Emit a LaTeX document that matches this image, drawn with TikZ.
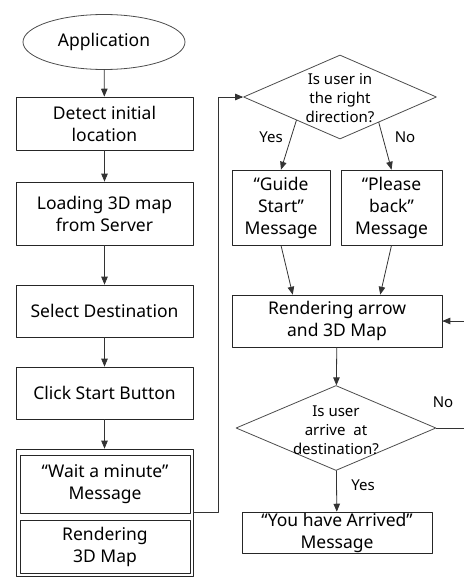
\documentclass[tikz,border=0pt]{standalone}
\usepackage{fontspec}
\setmainfont{Noto Sans}
\usetikzlibrary{arrows}
\usetikzlibrary{shapes.geometric}
\usetikzlibrary{calc}

\tikzset{
  box/.style={draw=black!85,line width=0.8pt,rectangle,inner sep=0pt,align=center,font=\fontsize{17.5}{22}\selectfont},
  startnode/.style={draw=black!70,line width=0.8pt,ellipse,inner sep=0pt,font=\fontsize{17.5}{22}\selectfont},
  decision/.style={draw=black!70,line width=0.8pt,diamond,inner sep=0pt},
  qtext/.style={align=center,inner sep=0pt,font=\fontsize{15}{19}\selectfont},
  answer/.style={inner sep=0pt,font=\fontsize{15}{19}\selectfont},
  link/.style={->,draw=black!80,line width=0.8pt}
}

\begin{document}
\begin{tikzpicture}[line cap=round,line join=round,>=triangle 45,x=1pt,y=-1pt]
\useasboundingbox (0,0) rectangle (463,578);
% left column
\node[startnode,minimum width=162pt,minimum height=55pt] (app) at (104,42) {Application};
\node[box,minimum width=177pt,minimum height=53pt] (detect) at (104.5,123.5) {Detect initial\\location};
\node[box,minimum width=177pt,minimum height=63pt] (load) at (104.5,213.5) {Loading 3D map\\from Server};
\node[box,minimum width=177pt,minimum height=52pt] (select) at (104.5,311) {Select Destination};
\node[box,minimum width=177pt,minimum height=52pt] (click) at (104.5,393) {Click Start Button};
\node[box,minimum width=177pt,minimum height=127pt] (outer) at (104.5,512.5) {};
\node[box,minimum width=170pt,minimum height=58pt] (wait) at (105,484) {“Wait a minute”\\Message};
\node[box,minimum width=170pt,minimum height=53pt] (render3d) at (105,546.5) {Rendering\\3D Map};
% right column
\node[decision,minimum width=193pt,minimum height=84pt] (dir) at (340,97) {};
\node[qtext] (dirq) at (340,98) {Is user in\\the right\\direction?};
\node[box,minimum width=98pt,minimum height=75pt] (guide) at (281,207.5) {“Guide\\Start”\\Message};
\node[box,minimum width=101pt,minimum height=75pt] (please) at (391.5,207.5) {“Please\\back”\\Message};
\node[box,minimum width=210pt,minimum height=52pt] (render) at (337,321) {Rendering arrow\\and 3D Map};
\node[decision,minimum width=200pt,minimum height=85pt] (arrive) at (336,428) {};
\node[qtext] (arriveq) at (336,430) {Is user\\arrive~ at\\destination?};
\node[box,minimum width=190pt,minimum height=41pt] (arrived) at (337,532.5) {“You have Arrived”\\Message};
\node[answer] (yes1) at (271,137) {Yes};
\node[answer] (no1) at (405,137) {No};
\node[answer] (no2) at (443,402) {No};
\node[answer] (yes2) at (363,485) {Yes};
% connectors
\draw[link] (app) -- (detect);
\draw[link] (detect) -- (load);
\draw[link] (load) -- (select);
\draw[link] (select) -- (click);
\draw[link] (click) -- (outer);
\draw[link] (outer.east) -- ++(25,0) |- (dir.west);
\draw[link] ($(dir.south)!0.45!(dir.west)$) -- (guide.north);
\draw[link] ($(dir.south)!0.4!(dir.east)$) -- (please.north);
\draw[link] (guide.south) -- ($(render.north west)!0.29!(render.north east)$);
\draw[link] (please.south) -- ($(render.north west)!0.705!(render.north east)$);
\draw[link] (render) -- (arrive);
\draw[link] (arrive) -- (arrived);
\draw[link] (arrive.east) -- ++(32,0) |- (render.east);
\end{tikzpicture}
\end{document}
